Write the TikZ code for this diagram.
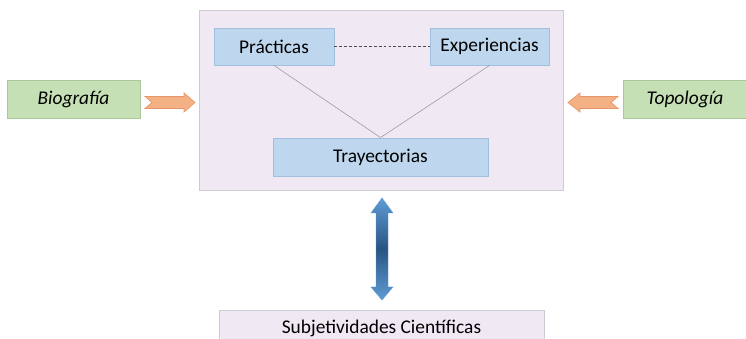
\documentclass[tikz,border=0pt]{standalone}
\usepackage{fontspec}
\setmainfont{Carlito}
\usetikzlibrary{calc}
\definecolor{lila}{RGB}{240,233,244}
\definecolor{lilaborde}{RGB}{205,203,212}
\definecolor{azulcaja}{RGB}{190,215,238}
\definecolor{azulborde}{RGB}{160,192,222}
\definecolor{verde}{RGB}{198,224,181}
\definecolor{verdeborde}{RGB}{170,200,150}
\definecolor{naranja}{RGB}{244,177,131}
\definecolor{naranjaborde}{RGB}{232,150,105}
\definecolor{azulclaro}{RGB}{95,155,213}
\definecolor{azuloscuro}{RGB}{40,85,130}
\pgfdeclareverticalshading{flechaazul}{100bp}{color(0bp)=(azulclaro); color(25bp)=(azulclaro); color(50bp)=(azuloscuro); color(75bp)=(azulclaro); color(100bp)=(azulclaro)}

\begin{document}
\begin{tikzpicture}[x=0.025cm, y=-0.025cm,
	caja/.style={inner sep=0pt, line width=0.6pt, font=\fontsize{13.8}{16}\selectfont},
	marco/.style={caja, draw=lilaborde, fill=lila},
	azul/.style={caja, draw=azulborde, fill=azulcaja},
	verdecaja/.style={caja, draw=verdeborde, fill=verde, font=\fontsize{13.8}{16}\selectfont\itshape},
	flecha/.style={draw=naranjaborde, fill=naranja, line width=0.5pt}]
		%%%%% START %%%%%
		
		\useasboundingbox (0, 0) rectangle (746, 339);
		\clip (0, 0) rectangle (746, 339);
		
		\node[marco, minimum width=9.1cm, minimum height=4.5cm] (marco) at (381, 100) {};
		\node[azul, minimum width=3cm, minimum height=0.925cm] (practicas) at (274, 46.5) {Prácticas};
		\node[azul, minimum width=2.975cm, minimum height=0.925cm] (experiencias) at (489.5, 46.5) {Experiencias};
		\node[azul, minimum width=5.375cm, minimum height=0.95cm] (trayectorias) at (380.5, 157) {Trayectorias};
		
		\draw[line width=0.4pt, color=black!70, dash pattern=on 2pt off 1.5pt] (practicas) -- (experiencias);
		\draw[line width=0.4pt, color=black!40] (practicas.south) -- (trayectorias.north);
		\draw[line width=0.4pt, color=black!40] (experiencias.south) -- (trayectorias.north);
		
		\node[verdecaja, minimum width=3.325cm, minimum height=0.95cm] (biografia) at (73.5, 99) {Biografía};
		\node[verdecaja, minimum width=3.1cm, minimum height=0.95cm] (topologia) at (685, 99) {Topología};
		
		\draw[flecha] (145, 96.5) -- (184, 96.5) -- (184, 93) -- (195, 102.5) -- (184, 112) -- (184, 108.5) -- (145, 108.5) -- (152, 102.5) -- cycle;
		\draw[flecha] (618, 96.5) -- (580, 96.5) -- (580, 93) -- (568, 102.5) -- (580, 112) -- (580, 108.5) -- (618, 108.5) -- (611, 102.5) -- cycle;
		
		\shade[shading=flechaazul, draw=azulclaro, line width=0.3pt]
			(382, 198) -- (393, 213) -- (388, 213) -- (388, 287) -- (393, 287) -- (382, 300)
			-- (371, 287) -- (376, 287) -- (376, 213) -- (371, 213) -- cycle;
		
		\node[marco, minimum width=8.125cm, minimum height=0.9cm] (subjetividades) at (381.5, 328) {Subjetividades Científicas};
		
		%%%%% END %%%%%
\end{tikzpicture}
\end{document}
